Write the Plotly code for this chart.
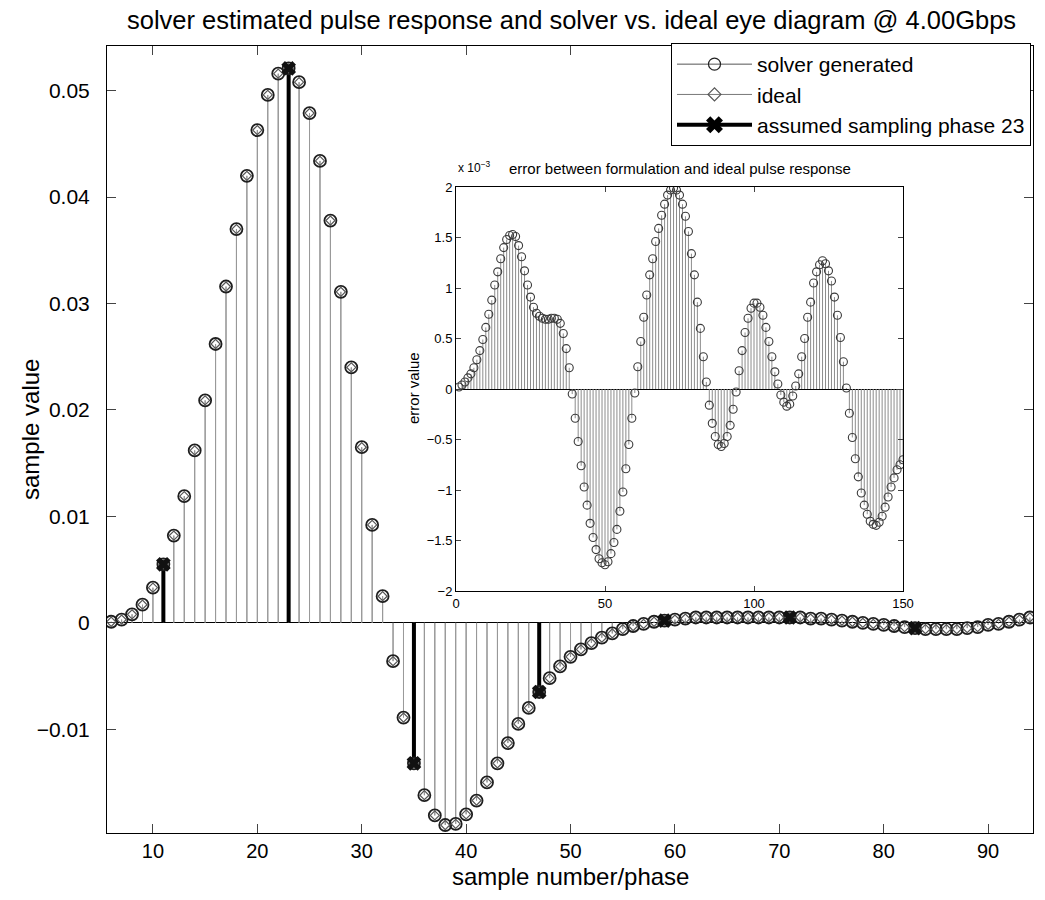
import plotly.graph_objects as go

# ---------------- main chart data ----------------
sample_x = list(range(6, 95))
solver_vals = [
    0.0001, 0.0003, 0.0008, 0.0017, 0.0033, 0.0055, 0.0082, 0.0119, 0.0162, 0.0209,
    0.0262, 0.0316, 0.0370, 0.0420, 0.0463, 0.0496, 0.0516, 0.0521, 0.0508, 0.0479,
    0.0434, 0.0378, 0.0311, 0.0240, 0.0165, 0.0092, 0.0025, -0.0036, -0.0089, -0.0132,
    -0.0162, -0.0181, -0.0190, -0.0189, -0.0180, -0.0167, -0.0150, -0.0132, -0.0113, -0.0095,
    -0.0080, -0.0065, -0.0052, -0.0041, -0.0032, -0.0025, -0.0019, -0.0014, -0.0010, -0.0006,
    -0.0003, -0.0001, 0.0001, 0.0002, 0.0003, 0.0004, 0.0005, 0.0005, 0.0005, 0.0005,
    0.0005, 0.0005, 0.0005, 0.0005, 0.0005, 0.0005, 0.0005, 0.0004, 0.0004, 0.0003,
    0.0002, 0.0001, 0.0000, -0.0001, -0.0002, -0.0003, -0.0004, -0.0005, -0.0006, -0.0006,
    -0.0006, -0.0006, -0.0005, -0.0004, -0.0002, -0.0001, 0.0001, 0.0003, 0.0005,
]
ideal_vals = [
    0.0001, 0.0003, 0.0008, 0.0017, 0.0033, 0.0055, 0.0082, 0.0119, 0.0162, 0.0209,
    0.0262, 0.0316, 0.0370, 0.0420, 0.0463, 0.0496, 0.0516, 0.0521, 0.0508, 0.0479,
    0.0434, 0.0378, 0.0311, 0.0240, 0.0165, 0.0092, 0.0025, -0.0036, -0.0089, -0.0132,
    -0.0162, -0.0181, -0.0190, -0.0189, -0.0180, -0.0167, -0.0150, -0.0132, -0.0113, -0.0095,
    -0.0080, -0.0065, -0.0052, -0.0041, -0.0032, -0.0025, -0.0019, -0.0014, -0.0010, -0.0006,
    -0.0003, -0.0001, 0.0001, 0.0002, 0.0003, 0.0004, 0.0005, 0.0005, 0.0005, 0.0005,
    0.0005, 0.0005, 0.0005, 0.0005, 0.0005, 0.0005, 0.0005, 0.0004, 0.0004, 0.0003,
    0.0002, 0.0001, 0.0000, -0.0001, -0.0002, -0.0003, -0.0004, -0.0005, -0.0006, -0.0006,
    -0.0006, -0.0006, -0.0005, -0.0004, -0.0002, -0.0001, 0.0001, 0.0003, 0.0005,
]
phase_x = [11, 23, 35, 47, 59, 71, 83]

main_xticks = [10, 20, 30, 40, 50, 60, 70, 80, 90]
main_yticks = [-0.01, 0, 0.01, 0.02, 0.03, 0.04, 0.05]
main_yticklabels = ["\u22120.01", "0", "0.01", "0.02", "0.03", "0.04", "0.05"]

# ---------------- inset data (units of 1e-3) ----------------
err_x = list(range(1, 151))
err_vals = [
    0.02, 0.04, 0.07, 0.11, 0.15, 0.21, 0.29, 0.38, 0.49, 0.61,
    0.74, 0.88, 1.03, 1.16, 1.29, 1.40, 1.48, 1.52, 1.53, 1.51,
    1.42, 1.31, 1.17, 1.03, 0.91, 0.81, 0.75, 0.72, 0.70, 0.69,
    0.69, 0.70, 0.70, 0.69, 0.65, 0.55, 0.40, 0.21, -0.05, -0.29,
    -0.52, -0.76, -0.97, -1.15, -1.33, -1.47, -1.59, -1.68, -1.72, -1.74,
    -1.71, -1.63, -1.52, -1.39, -1.21, -1.02, -0.79, -0.55, -0.29, -0.04,
    0.22, 0.47, 0.71, 0.93, 1.13, 1.29, 1.46, 1.59, 1.72, 1.83,
    1.92, 1.97, 1.99, 1.97, 1.92, 1.83, 1.71, 1.56, 1.34, 1.13,
    0.86, 0.60, 0.32, 0.07, -0.16, -0.34, -0.47, -0.55, -0.57, -0.54,
    -0.47, -0.36, -0.20, -0.03, 0.18, 0.38, 0.56, 0.70, 0.80, 0.85,
    0.85, 0.81, 0.73, 0.61, 0.47, 0.32, 0.17, 0.05, -0.06, -0.13,
    -0.17, -0.15, -0.07, 0.03, 0.15, 0.32, 0.50, 0.71, 0.86, 1.05,
    1.16, 1.23, 1.27, 1.24, 1.17, 1.07, 0.91, 0.73, 0.51, 0.27,
    0.01, -0.24, -0.48, -0.69, -0.87, -1.03, -1.15, -1.24, -1.31, -1.34,
    -1.35, -1.32, -1.26, -1.17, -1.07, -0.97, -0.88, -0.80, -0.75, -0.70,
]
inset_xticks = [0, 50, 100, 150]
inset_yticks = [-2, -1.5, -1, -0.5, 0, 0.5, 1, 1.5, 2]
inset_yticklabels = ["\u22122", "\u22121.5", "\u22121", "\u22120.5", "0", "0.5", "1", "1.5", "2"]

FONT = "Liberation Sans, Arial, Helvetica, sans-serif"


def stems(xs, ys):
    sx, sy = [], []
    for a, b in zip(xs, ys):
        sx += [a, a, None]
        sy += [0, b, None]
    return sx, sy


fig = go.Figure()

sx, sy = stems(sample_x, solver_vals)
fig.add_trace(go.Scatter(x=sx, y=sy, mode="lines", line=dict(color="#808080", width=1),
                         showlegend=False, hoverinfo="skip", xaxis="x", yaxis="y"))
sx, sy = stems(sample_x, ideal_vals)
fig.add_trace(go.Scatter(x=sx, y=sy, mode="lines", line=dict(color="#9a9a9a", width=1),
                         showlegend=False, hoverinfo="skip", xaxis="x", yaxis="y"))

phase_y = [solver_vals[sample_x.index(p)] for p in phase_x]
px_, py_ = stems(phase_x, phase_y)
fig.add_trace(go.Scatter(x=px_, y=py_, mode="lines", line=dict(color="black", width=4),
                         showlegend=False, hoverinfo="skip", xaxis="x", yaxis="y"))

fig.add_trace(go.Scatter(x=sample_x, y=solver_vals, mode="markers", name="solver generated",
                         marker=dict(symbol="circle-open", size=12, color="#1e1e1e", line=dict(width=1.8)),
                         showlegend=False, xaxis="x", yaxis="y"))
fig.add_trace(go.Scatter(x=sample_x, y=ideal_vals, mode="markers", name="ideal",
                         marker=dict(symbol="diamond-open", size=7, color="#555555", line=dict(width=1.2)),
                         showlegend=False, xaxis="x", yaxis="y"))
fig.add_trace(go.Scatter(x=phase_x, y=phase_y, mode="markers", name="assumed sampling phase 23",
                         marker=dict(symbol="x", size=13, color="#111111", line=dict(width=0)),
                         showlegend=False, xaxis="x", yaxis="y"))

fig.add_trace(go.Scatter(x=[None], y=[None], mode="lines+markers", name="solver generated",
                         line=dict(color="#555555", width=1), legendgroup="a",
                         marker=dict(symbol="circle-open", size=12, color="#222222", line=dict(width=1.2)),
                         xaxis="x", yaxis="y"))
fig.add_trace(go.Scatter(x=[None], y=[None], mode="lines+markers", name="ideal",
                         line=dict(color="#777777", width=1), legendgroup="b",
                         marker=dict(symbol="diamond-open", size=10, color="#555555", line=dict(width=1.2)),
                         xaxis="x", yaxis="y"))
fig.add_trace(go.Scatter(x=[None], y=[None], mode="lines+markers", name="assumed sampling phase 23",
                         line=dict(color="black", width=4), legendgroup="c",
                         marker=dict(symbol="x", size=15, color="black", line=dict(width=0)),
                         xaxis="x", yaxis="y"))

ex, ey = stems(err_x, err_vals)
fig.add_trace(go.Scatter(x=ex, y=ey, mode="lines", line=dict(color="#8c8c8c", width=1),
                         showlegend=False, hoverinfo="skip", xaxis="x2", yaxis="y2"))
fig.add_trace(go.Scatter(x=err_x, y=err_vals, mode="markers",
                         marker=dict(symbol="circle-open", size=8, color="#3a3a3a", line=dict(width=1.1)),
                         showlegend=False, xaxis="x2", yaxis="y2"))

W, H = 1045, 900
ML, MR, MT, MB = 107, 12, 46, 67
PW, PH = W - ML - MR, H - MT - MB


def px2paper_x(p):
    return (p - ML) / PW


def px2paper_y(p):
    return (H - MB - p) / PH


fig.update_layout(
    width=W, height=H,
    margin=dict(l=ML, r=MR, t=MT, b=MB, autoexpand=False),
    paper_bgcolor="white", plot_bgcolor="white",
    font=dict(family=FONT, color="black"),
    showlegend=True,
    legend=dict(x=px2paper_x(1031), y=px2paper_y(43), xanchor="right", yanchor="top",
                bgcolor="white", bordercolor="black", borderwidth=1,
                font=dict(size=21, family=FONT), itemwidth=75, tracegroupgap=0,
                traceorder="grouped"),
    xaxis=dict(domain=[0, 1], range=[5.6, 94.3], tickvals=main_xticks, ticks="inside", ticklen=9,
               showline=True, mirror="ticks", linecolor="black", linewidth=1, showgrid=False,
               zeroline=False, tickfont=dict(size=20), anchor="y", automargin=False),
    yaxis=dict(domain=[0, 1], range=[-0.01975, 0.0542], tickvals=main_yticks, ticktext=main_yticklabels,
               ticks="inside", ticklen=9, showline=True, mirror="ticks", linecolor="black", linewidth=1,
               showgrid=False, zeroline=True, zerolinecolor="black", zerolinewidth=1,
               tickfont=dict(size=21), ticklabelstandoff=12, anchor="x", automargin=False),
    xaxis2=dict(domain=[px2paper_x(456), px2paper_x(903)], range=[0, 150], tickvals=inset_xticks,
                ticks="inside", ticklen=5, showline=True, mirror="ticks", linecolor="black", linewidth=1,
                showgrid=False, zeroline=False, tickfont=dict(size=13), anchor="y2", automargin=False),
    yaxis2=dict(domain=[px2paper_y(591), px2paper_y(187)], range=[-2, 2], tickvals=inset_yticks,
                ticktext=inset_yticklabels, ticks="inside", ticklen=5, showline=True, mirror="ticks",
                linecolor="black", linewidth=1, showgrid=False, zeroline=True, zerolinecolor="black",
                zerolinewidth=1, tickfont=dict(size=13), anchor="x2", automargin=False),
    shapes=[dict(type="rect", xref="paper", yref="paper",
                 x0=px2paper_x(456), x1=px2paper_x(903), y0=px2paper_y(591), y1=px2paper_y(187),
                 fillcolor="white", line=dict(width=0), layer="below")],
    annotations=[
        dict(text="solver estimated pulse response and solver vs. ideal eye diagram @ 4.00Gbps",
             xref="paper", yref="paper", x=px2paper_x(571), y=px2paper_y(20), xanchor="center",
             yanchor="middle", showarrow=False, font=dict(size=25.5)),
        dict(text="sample number/phase", xref="paper", yref="paper", x=px2paper_x(570), y=px2paper_y(877),
             xanchor="center", yanchor="middle", showarrow=False, font=dict(size=24)),
        dict(text="sample value", xref="paper", yref="paper", x=px2paper_x(30), y=px2paper_y(430),
             xanchor="center", yanchor="middle", textangle=-90, showarrow=False, font=dict(size=24)),
        dict(text="error between formulation and ideal pulse response", xref="paper", yref="paper",
             x=px2paper_x(680), y=px2paper_y(168), xanchor="center", yanchor="middle",
             showarrow=False, font=dict(size=15)),
        dict(text="x 10<sup>\u22123</sup>", xref="paper", yref="paper", x=px2paper_x(456),
             y=px2paper_y(167), xanchor="left", yanchor="middle", showarrow=False, font=dict(size=12)),
        dict(text="error value", xref="paper", yref="paper", x=px2paper_x(413), y=px2paper_y(388),
             xanchor="center", yanchor="middle", textangle=-90, showarrow=False, font=dict(size=15)),
    ],
)

fig.write_html("out.html", config={"displayModeBar": False},
               post_script="document.body.style.margin='0px';document.body.style.overflow='hidden';")
